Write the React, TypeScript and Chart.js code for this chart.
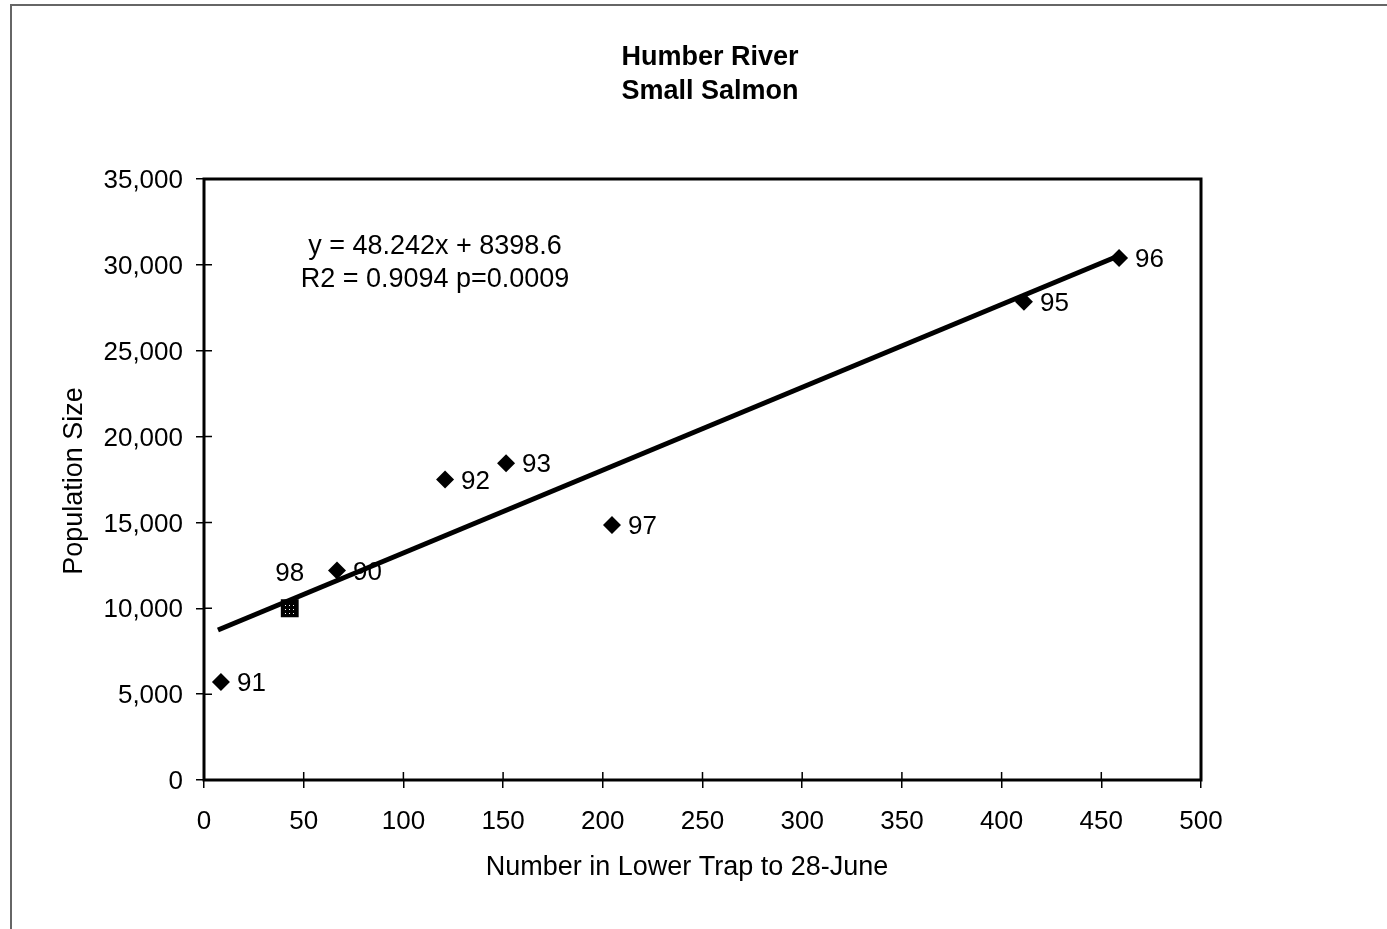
import { useEffect, useRef } from "react";
import { Chart, registerables } from "chart.js";

Chart.register(...registerables);

// ---- data ----
const TITLE_LINES = ["Humber River", "Small Salmon"];
const X_TITLE = "Number in Lower Trap to 28-June";
const Y_TITLE = "Population Size";
const EQUATION_LINES = ["y = 48.242x + 8398.6", "R2 = 0.9094 p=0.0009"];

const yearLabels = ["91", "90", "92", "93", "97", "95", "96"];
const trapCounts = [8.5, 66.7, 120.9, 151.5, 204.6, 411.2, 458.9];
const populationSizes = [5700, 12200, 17500, 18450, 14850, 27850, 30400];

const label1998 = ["98"];
const trapCount1998 = [43];
const population1998 = [10000];

const trendX = [7, 460];
const trendY = [8736, 30590];

const xTicks = [0, 50, 100, 150, 200, 250, 300, 350, 400, 450, 500];
const yTicks = [0, 5000, 10000, 15000, 20000, 25000, 30000, 35000];

const FONT = '"Liberation Sans", Arial, sans-serif';

export default function App() {
  const ref = useRef<HTMLCanvasElement | null>(null);

  useEffect(() => {
    const canvas = ref.current;
    if (!canvas) return;

    // dotted fill for the 1998 square marker
    const pc = document.createElement("canvas");
    pc.width = 4;
    pc.height = 4;
    const pctx = pc.getContext("2d")!;
    pctx.fillStyle = "#000";
    pctx.fillRect(0, 0, 4, 4);
    pctx.fillStyle = "#fff";
    pctx.fillRect(1, 1, 1, 1);
    const pattern = canvas.getContext("2d")!.createPattern(pc, "repeat");

    const decor = {
      id: "decor",
      beforeDatasetsDraw(chart: any) {
        const ctx = chart.ctx;
        ctx.save();
        ctx.fillStyle = "#000";
        ctx.font = `26px ${FONT}`;
        ctx.textBaseline = "middle";
        ctx.textAlign = "left";
        chart.getDatasetMeta(0).data.forEach((el: any, i: number) => {
          ctx.fillText(yearLabels[i], el.x + 16, el.y + 2);
        });
        ctx.textAlign = "center";
        chart.getDatasetMeta(1).data.forEach((el: any, i: number) => {
          ctx.fillText(label1998[i], el.x, el.y - 34);
        });
        ctx.restore();
      },
      afterDraw(chart: any) {
        const ctx = chart.ctx;
        const { left, right, top, bottom } = chart.chartArea;
        const xs = chart.scales.x;
        const ys = chart.scales.y;
        ctx.save();
        // inner halves of cross tick marks
        ctx.strokeStyle = "#000";
        ctx.lineWidth = 1.5;
        ctx.beginPath();
        xTicks.forEach((v) => {
          const px = xs.getPixelForValue(v);
          ctx.moveTo(px, bottom);
          ctx.lineTo(px, bottom - 8);
        });
        yTicks.forEach((v) => {
          const py = ys.getPixelForValue(v);
          ctx.moveTo(left, py);
          ctx.lineTo(left + 8, py);
        });
        ctx.stroke();
        // plot frame
        ctx.lineWidth = 3;
        ctx.strokeRect(left, top, right - left, bottom - top);
        // outer page frame
        ctx.strokeStyle = "#666";
        ctx.lineWidth = 2;
        ctx.beginPath();
        ctx.moveTo(11, 929);
        ctx.lineTo(11, 5);
        ctx.lineTo(1387, 5);
        ctx.stroke();
        // titles
        ctx.fillStyle = "#000";
        ctx.textAlign = "center";
        ctx.textBaseline = "middle";
        ctx.font = `bold 27px ${FONT}`;
        ctx.fillText(TITLE_LINES[0], 710, 58);
        ctx.fillText(TITLE_LINES[1], 710, 92);
        ctx.font = `27px ${FONT}`;
        ctx.fillText(EQUATION_LINES[0], 435, 247);
        ctx.fillText(EQUATION_LINES[1], 435, 280);
        ctx.fillText(X_TITLE, 687, 868);
        ctx.save();
        ctx.translate(75, 481);
        ctx.rotate(-Math.PI / 2);
        ctx.fillText(Y_TITLE, 0, 0);
        ctx.restore();
        ctx.restore();
      },
    };

    const chart = new Chart(canvas, {
      type: "scatter",
      data: {
        datasets: [
          {
            label: "years",
            data: trapCounts.map((x, i) => ({ x, y: populationSizes[i] })),
            pointStyle: "rectRot",
            pointRadius: 9,
            pointHoverRadius: 9,
            backgroundColor: "#000",
            borderColor: "#000",
            borderWidth: 0,
            order: 0,
          },
          {
            label: "1998",
            data: trapCount1998.map((x, i) => ({ x, y: population1998[i] })),
            pointStyle: "rect",
            pointRadius: 10.5,
            pointHoverRadius: 10.5,
            backgroundColor: pattern as any,
            borderColor: "#000",
            borderWidth: 3,
            order: 0,
          },
          {
            label: "trend",
            data: trendX.map((x, i) => ({ x, y: trendY[i] })),
            showLine: true,
            borderColor: "#000",
            borderWidth: 5,
            pointRadius: 0,
            pointHoverRadius: 0,
            order: 1,
          },
        ],
      },
      options: {
        responsive: false,
        animation: false,
        events: [],
        layout: { padding: { left: 0, right: 186, top: 179, bottom: 49 } },
        plugins: {
          legend: { display: false },
          title: { display: false },
          tooltip: { enabled: false },
        },
        scales: {
          x: {
            type: "linear",
            min: 0,
            max: 500,
            afterBuildTicks: (s: any) => {
              s.ticks = xTicks.map((v) => ({ value: v }));
            },
            afterFit: (s: any) => {
              s.height = 100;
            },
            grid: {
              display: true,
              drawOnChartArea: false,
              drawTicks: true,
              tickLength: 8,
              color: "#000",
              lineWidth: 1.5,
            },
            border: { display: false },
            ticks: {
              color: "#000",
              font: { family: FONT, size: 26 },
              padding: 18,
              maxRotation: 0,
              autoSkip: false,
            },
          },
          y: {
            type: "linear",
            min: 0,
            max: 35000,
            afterBuildTicks: (s: any) => {
              s.ticks = yTicks.map((v) => ({ value: v }));
            },
            afterFit: (s: any) => {
              s.width = 204;
            },
            grid: {
              display: true,
              drawOnChartArea: false,
              drawTicks: true,
              tickLength: 8,
              color: "#000",
              lineWidth: 1.5,
            },
            border: { display: false },
            ticks: {
              color: "#000",
              font: { family: FONT, size: 26 },
              padding: 13,
              labelOffset: 2,
              autoSkip: false,
              callback: (v: any) => Number(v).toLocaleString("en-US"),
            },
          },
        },
      },
      plugins: [decor],
    });

    return () => chart.destroy();
  }, []);

  return (
    <div
      style={{
        position: "absolute",
        left: 0,
        top: 0,
        width: 1387,
        height: 929,
        background: "#fff",
      }}
    >
      <canvas ref={ref} width={1387} height={929} style={{ display: "block" }} />
    </div>
  );
}
